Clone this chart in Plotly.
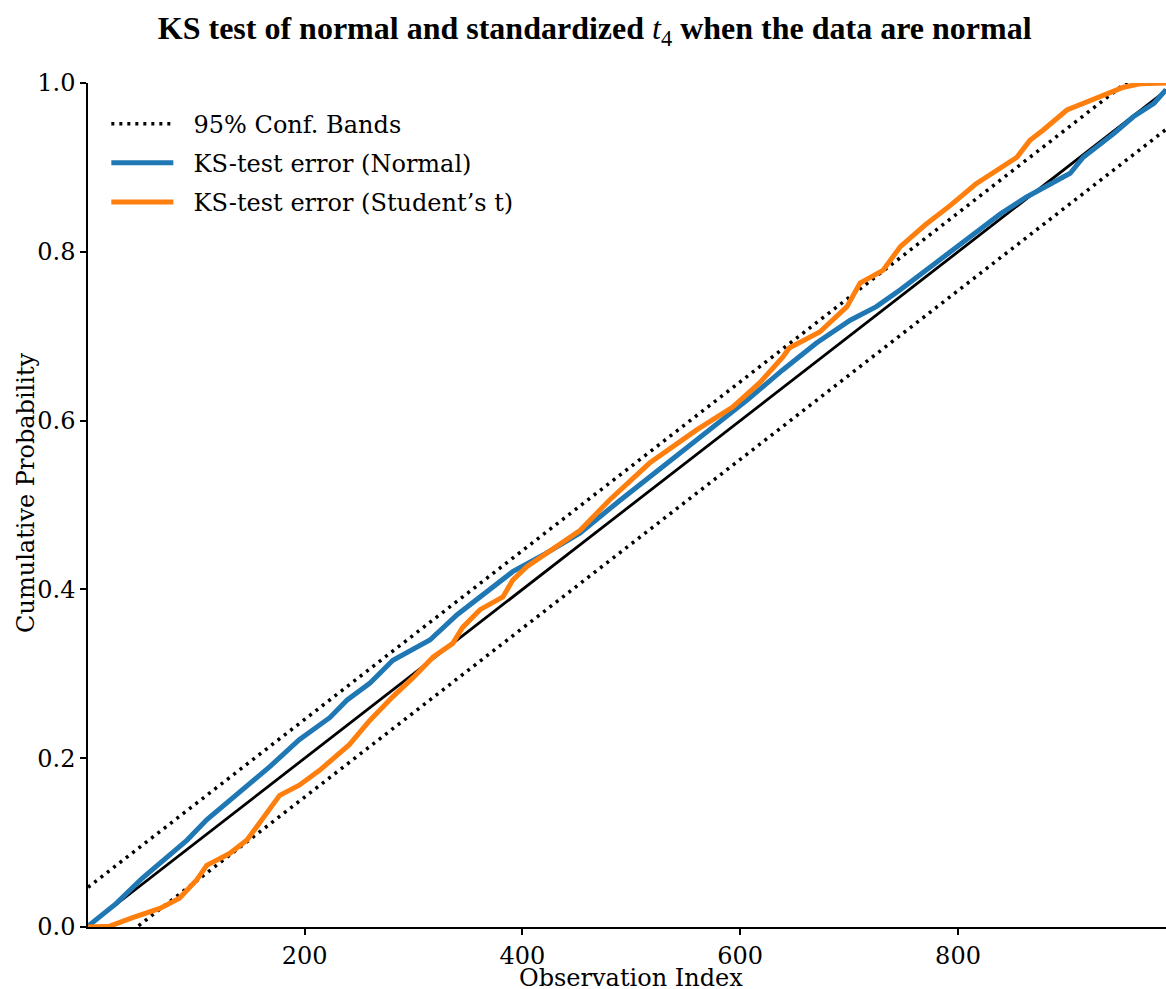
import plotly.graph_objects as go

# ---- data ----
idx_normal = [1, 27, 51, 73, 92, 110, 131, 150, 168, 195, 223, 239, 260, 281, 315,
              340, 377, 391, 422, 453, 490, 533, 575, 606, 639, 670, 701, 725, 747,
              793, 839, 863, 885, 903, 915, 943, 961, 980, 991]
prob_normal = [0.001, 0.028, 0.058, 0.083, 0.103, 0.127, 0.15, 0.172, 0.19, 0.222,
               0.248, 0.269, 0.289, 0.316, 0.34, 0.37, 0.408, 0.421, 0.443, 0.467,
               0.506, 0.55, 0.592, 0.624, 0.66, 0.692, 0.719, 0.735, 0.755, 0.80,
               0.845, 0.865, 0.881, 0.893, 0.912, 0.94, 0.96, 0.976, 0.992]

idx_t = [1, 21, 42, 67, 85, 101, 110, 131, 147, 161, 177, 195, 214, 241, 260, 281,
         300, 318, 336, 345, 361, 382, 391, 404, 431, 453, 480, 517, 560, 593, 618,
         639, 645, 673, 698, 710, 731, 747, 770, 793, 816, 839, 854, 866, 878, 900,
         924, 940, 952, 967, 991]
prob_t = [0.0, 0.001, 0.011, 0.022, 0.034, 0.056, 0.073, 0.087, 0.103, 0.127, 0.156,
          0.168, 0.186, 0.216, 0.245, 0.273, 0.296, 0.32, 0.336, 0.355, 0.376, 0.391,
          0.411, 0.427, 0.45, 0.47, 0.506, 0.55, 0.589, 0.616, 0.645, 0.675, 0.686,
          0.705, 0.735, 0.763, 0.778, 0.806, 0.832, 0.855, 0.88, 0.90, 0.912, 0.932,
          0.944, 0.968, 0.98, 0.988, 0.995, 0.999, 1.0]

ref_idx = [1, 1000]
ref_prob = [0.001, 1.0]
band_upper = [0.047, 1.046]
band_lower = [-0.045, 0.954]

x_ticks = [200, 400, 600, 800]
y_ticks = [0.0, 0.2, 0.4, 0.6, 0.8, 1.0]

FONT = "DejaVu Serif"
TITLE_FONT = "Liberation Serif"
PAD = "\u00a0\u00a0"

fig = go.Figure()

dot_line = dict(color="black", width=3.5, dash="3px,5px")
fig.add_trace(go.Scatter(x=ref_idx, y=band_upper, mode="lines", line=dot_line,
                         name=PAD + "95% Conf. Bands", legendgroup="band"))
fig.add_trace(go.Scatter(x=ref_idx, y=band_lower, mode="lines", line=dot_line,
                         name=PAD + "95% Conf. Bands", legendgroup="band", showlegend=False))
fig.add_trace(go.Scatter(x=ref_idx, y=ref_prob, mode="lines",
                         line=dict(color="black", width=2.8), showlegend=False,
                         legendgroup="ref"))
fig.add_trace(go.Scatter(x=idx_normal, y=prob_normal, mode="lines",
                         line=dict(color="#1f77b4", width=5),
                         name=PAD + "KS-test error (Normal)", legendgroup="normal"))
fig.add_trace(go.Scatter(x=idx_t, y=prob_t, mode="lines",
                         line=dict(color="#ff7f0e", width=5),
                         name=PAD + "KS-test error (Student\u2019s t)", legendgroup="t"))

fig.update_layout(
    width=1166, height=989,
    margin=dict(l=88, r=0, t=83, b=62),
    paper_bgcolor="white", plot_bgcolor="white",
    font=dict(family=FONT, size=24, color="black"),
    title=dict(
        text="<b>KS test of normal and standardized </b><i>t</i><sub>4</sub><b> when the data are normal</b>",
        font=dict(family=TITLE_FONT, size=32, color="black"),
        x=0.51, xanchor="center", y=0.972, yanchor="middle"),
    legend=dict(x=0.017, y=0.978, xanchor="left", yanchor="top",
                bgcolor="rgba(0,0,0,0)", font=dict(family=FONT, size=24),
                itemwidth=62, tracegroupgap=5),
    showlegend=True,
    annotations=[
        dict(text="Observation Index", xref="paper", yref="paper",
             x=0.504, y=-0.061, xanchor="center", yanchor="middle",
             showarrow=False, font=dict(family=FONT, size=24, color="black")),
        dict(text="Cumulative Probability", xref="paper", yref="paper",
             x=-0.057, y=0.515, xanchor="center", yanchor="middle", textangle=-90,
             showarrow=False, font=dict(family=FONT, size=24, color="black")),
    ],
)

fig.update_xaxes(range=[1, 991], tickvals=x_ticks, ticktext=[str(v) for v in x_ticks],
                 showgrid=False, zeroline=False, showline=True, linecolor="black",
                 linewidth=1.5, ticks="outside", ticklen=6, tickwidth=1.5,
                 tickcolor="black", tickfont=dict(size=24))
fig.update_yaxes(range=[0, 1], tickvals=y_ticks, ticktext=[f"{v:.1f}" for v in y_ticks],
                 showgrid=False, zeroline=False, showline=True, linecolor="black",
                 linewidth=1.5, ticks="outside", ticklen=6, tickwidth=1.5,
                 tickcolor="black", tickfont=dict(size=24))

fig.write_html("out.html")
